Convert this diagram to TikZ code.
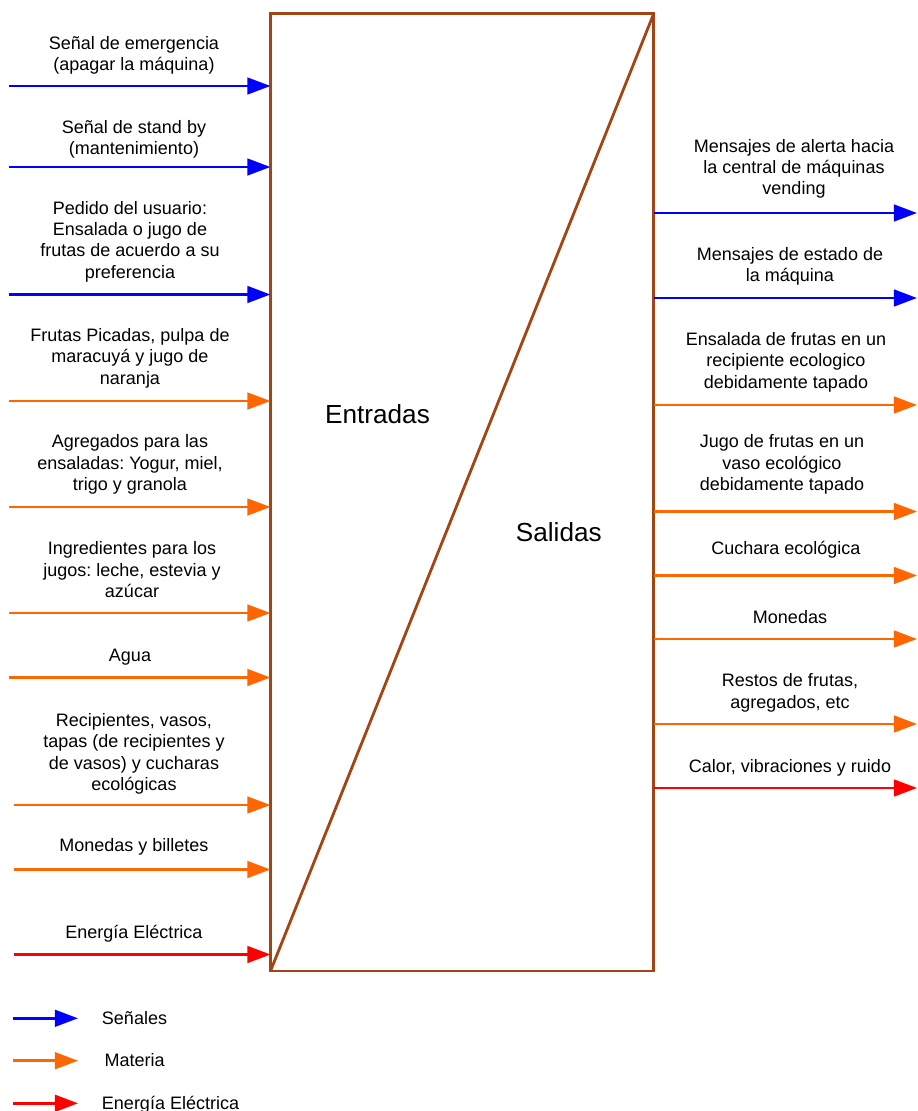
\documentclass[tikz,border=0pt]{standalone}
\usepackage{fontspec}
\setmainfont{Liberation Sans}
\usetikzlibrary{arrows.meta}

\definecolor{csenal}{RGB}{0,0,255}
\definecolor{cmateria}{RGB}{255,102,0}
\definecolor{cenergia}{RGB}{255,0,0}
\definecolor{ccaja}{RGB}{163,68,20}

\tikzset{
    flecha/.style={line width=2.1pt,-{Triangle[length=16.5pt,width=11.8pt]}},
    senal/.style={flecha,draw=csenal},
    materia/.style={flecha,draw=cmateria},
    energia/.style={flecha,draw=cenergia},
    etq/.style={align=center,inner sep=0pt,anchor=south,font=\fontsize{12.8pt}{15.15pt}\selectfont\frenchspacing},
    ley/.style={inner sep=0pt,anchor=base west,font=\fontsize{12.8pt}{15.15pt}\selectfont},
}

\begin{document}
\begin{tikzpicture}[x=0.025cm,y=-0.025cm]
    \useasboundingbox (0,0) rectangle (917,1111);

    \node[draw=ccaja,line width=2pt,minimum width=9.58cm,minimum height=23.93cm,inner sep=0pt,outer sep=0pt] (proc) at (462.1,492.35) {};
    \draw[ccaja,line width=2pt] (proc.south west) -- (proc.north east);
    \node[anchor=base,font=\fontsize{18.6pt}{22pt}\selectfont] (lent) at (377.5,423.3) {Entradas};
    \node[anchor=base,font=\fontsize{18.6pt}{22pt}\selectfont] (lsal) at (558.8,541) {Salidas};

    \coordinate (e1) at (9,86);
    \coordinate (e2) at (9,167);
    \coordinate (e3) at (9,294.5);
    \coordinate (e4) at (9,401);
    \coordinate (e5) at (9,507);
    \coordinate (e6) at (9,613);
    \coordinate (e7) at (9,677.5);
    \coordinate (e8) at (14,805);
    \coordinate (e9) at (14,869.5);
    \coordinate (e10) at (14,954.5);
    \draw[senal] (e1) -- (e1 -| proc.west);
    \draw[senal] (e2) -- (e2 -| proc.west);
    \draw[senal] (e3) -- (e3 -| proc.west);
    \draw[materia] (e4) -- (e4 -| proc.west);
    \draw[materia] (e5) -- (e5 -| proc.west);
    \draw[materia] (e6) -- (e6 -| proc.west);
    \draw[materia] (e7) -- (e7 -| proc.west);
    \draw[materia] (e8) -- (e8 -| proc.west);
    \draw[materia] (e9) -- (e9 -| proc.west);
    \draw[energia] (e10) -- (e10 -| proc.west);
    \node[etq] (le1) at (134,77.1) {Señal de emergencia\\(apagar la máquina)\strut};
    \node[etq] (le2) at (134,161.4) {Señal de stand by\\(mantenimiento)\strut};
    \node[etq] (le3) at (130,284.7) {Pedido del usuario:\\Ensalada o jugo de\\frutas de acuerdo a su\\preferencia\strut};
    \node[etq] (le4) at (130,390.7) {Frutas Picadas, pulpa de\\maracuyá y jugo de\\naranja\strut};
    \node[etq] (le5) at (130,497.1) {Agregados para las\\ensaladas: Yogur, miel,\\trigo y granola\strut};
    \node[etq] (le6) at (132,604.1) {Ingredientes para los\\jugos: leche, estevia y\\azúcar\strut};
    \node[etq] (le7) at (130,668.1) {Agua\strut};
    \node[etq] (le8) at (134,797.1) {Recipientes, vasos,\\tapas (de recipientes y\\de vasos) y cucharas\\ecológicas\strut};
    \node[etq] (le9) at (134,858.1) {Monedas y billetes\strut};
    \node[etq] (le10) at (134,944.7) {Energía Eléctrica\strut};

    \coordinate (s1) at (917,213);
    \coordinate (s2) at (917,298);
    \coordinate (s3) at (917,405);
    \coordinate (s4) at (917,511.5);
    \coordinate (s5) at (917,575.5);
    \coordinate (s6) at (917,639);
    \coordinate (s7) at (917,724);
    \coordinate (s8) at (917,788);
    \draw[senal] (s1 -| proc.east) -- (s1);
    \draw[senal] (s2 -| proc.east) -- (s2);
    \draw[materia] (s3 -| proc.east) -- (s3);
    \draw[materia] (s4 -| proc.east) -- (s4);
    \draw[materia] (s5 -| proc.east) -- (s5);
    \draw[materia] (s6 -| proc.east) -- (s6);
    \draw[materia] (s7 -| proc.east) -- (s7);
    \draw[energia] (s8 -| proc.east) -- (s8);
    \node[etq] (ls1) at (794,201.4) {Mensajes de alerta hacia\\la central de máquinas\\vending\strut};
    \node[etq] (ls2) at (790,288.1) {Mensajes de estado de\\la máquina\strut};
    \node[etq] (ls3) at (786,394.7) {Ensalada de frutas en un\\recipiente ecologico\\debidamente tapado\strut};
    \node[etq] (ls4) at (782,497.1) {Jugo de frutas en un\\vaso ecológico\\debidamente tapado\strut};
    \node[etq] (ls5) at (786,561.4) {Cuchara ecológica\strut};
    \node[etq] (ls6) at (790,629.7) {Monedas\strut};
    \node[etq] (ls7) at (790,714.7) {Restos de frutas,\\agregados, etc\strut};
    \node[etq] (ls8) at (790,778.7) {Calor, vibraciones y ruido\strut};

    \coordinate (g1a) at (13,1018.3);
    \coordinate (g1b) at (78,1018.3);
    \coordinate (g2a) at (13,1060.7);
    \coordinate (g2b) at (78,1060.7);
    \coordinate (g3a) at (13,1103.3);
    \coordinate (g3b) at (78,1103.3);
    \draw[senal] (g1a) -- (g1b);
    \draw[materia] (g2a) -- (g2b);
    \draw[energia] (g3a) -- (g3b);
    \node[ley] (lg1) at (101.7,1024.3) {Señales};
    \node[ley] (lg2) at (104.3,1066.7) {Materia};
    \node[ley] (lg3) at (101.7,1109.3) {Energía Eléctrica};
\end{tikzpicture}
\end{document}
